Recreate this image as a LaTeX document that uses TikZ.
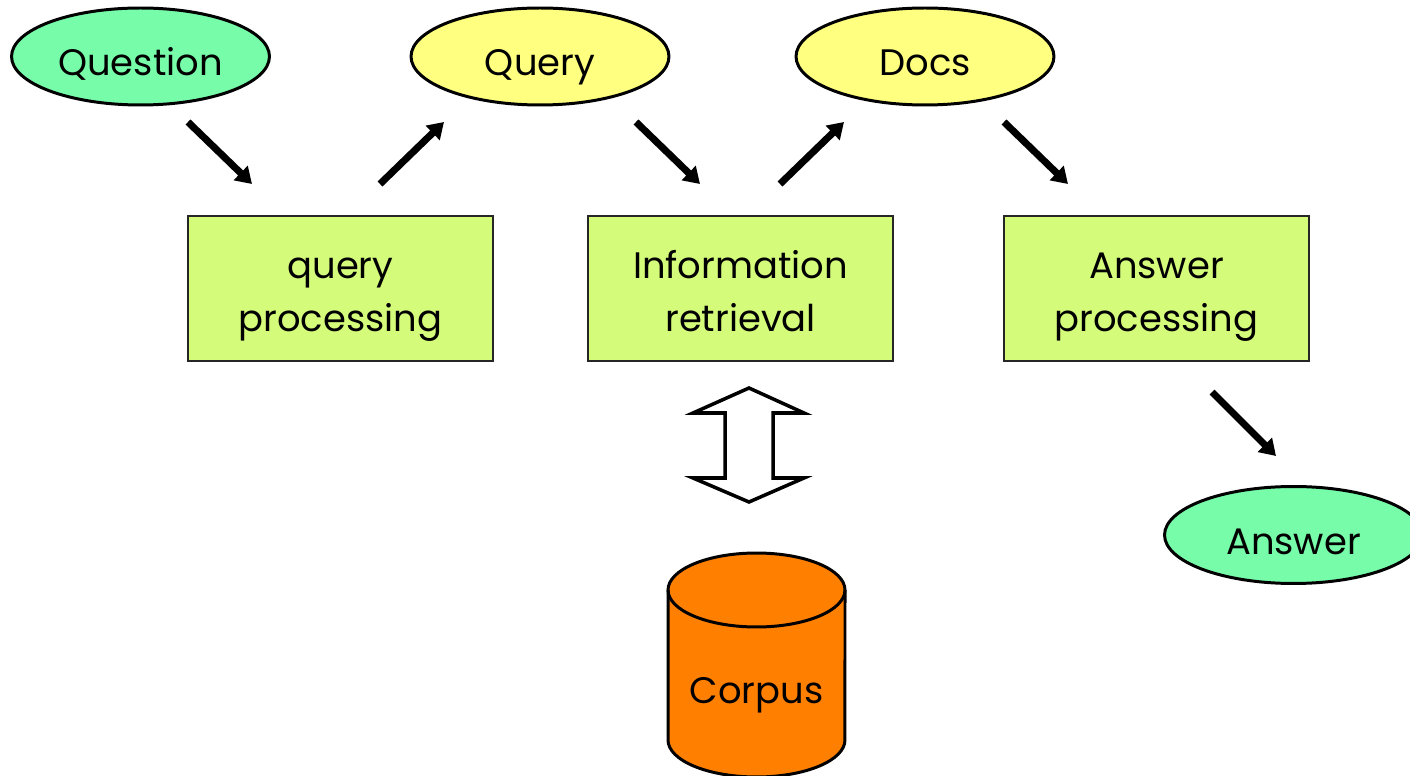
\documentclass[tikz,border=0pt]{standalone}
\usepackage{fontspec}
\setmainfont{Poppins}
\usetikzlibrary{arrows.meta,shapes.geometric}
\definecolor{qgreen}{HTML}{77FCA9}
\definecolor{qyellow}{HTML}{FFFF80}
\definecolor{boxgreen}{HTML}{D5FB7B}
\definecolor{corpusorange}{HTML}{FF7F00}
\begin{document}
\begin{tikzpicture}[x=0.02cm,y=-0.02cm,
  oval/.style={ellipse, draw=black, line width=1.7pt, minimum width=5.16cm,
    minimum height=1.94cm, inner sep=0pt, font=\fontsize{21}{25}\selectfont,
    text height=22pt, text depth=0pt},
  stagebox/.style={rectangle, draw=black!85, line width=1.1pt, fill=boxgreen,
    minimum width=6.1cm, minimum height=2.9cm, inner sep=0pt, align=center,
    font=\fontsize{21}{30.2}\selectfont, text height=49.5pt, text depth=0pt},
  flow/.style={line width=4pt, -{Triangle[length=9pt,width=11pt]}},
  hollow/.style={draw=black, line width=2pt, fill=white, line join=miter},
  labeltext/.style={font=\fontsize{21}{25}\selectfont, inner sep=0pt}]
\useasboundingbox (0,0) rectangle (1410,776);

% ovals
\node[oval, fill=qgreen]  (question) at (140.5,56.5) {Question};
\node[oval, fill=qyellow] (query)    at (540,56.5)   {Query};
\node[oval, fill=qyellow] (docs)     at (925,56.5)   {Docs};
\node[oval, fill=qgreen]  (answer)   at (1293.5,535) {Answer};

% processing boxes
\node[stagebox] (qp) at (340.5,288.5) {query\\processing};
\node[stagebox] (ir) at (740.5,288.5) {Information\\retrieval};
\node[stagebox] (ap) at (1156.5,288.5) {Answer\\processing};

% arrow end points
\coordinate (a1s) at (188,122);  \coordinate (a1e) at (252,184);
\coordinate (a2s) at (380,184);  \coordinate (a2e) at (444,122);
\coordinate (a3s) at (636,122);  \coordinate (a3e) at (700,184);
\coordinate (a4s) at (780,184);  \coordinate (a4e) at (844,122);
\coordinate (a5s) at (1004,122); \coordinate (a5e) at (1068,184);
\coordinate (a6s) at (1212,392); \coordinate (a6e) at (1276,456);
\draw[flow] (a1s) -- (a1e);
\draw[flow] (a2s) -- (a2e);
\draw[flow] (a3s) -- (a3e);
\draw[flow] (a4s) -- (a4e);
\draw[flow] (a5s) -- (a5e);
\draw[flow] (a6s) -- (a6e);

% hollow double arrow
\draw[hollow] (749,388) -- (804,413) -- (773,413) -- (773,478) -- (804,478)
  -- (749,502) -- (693,478) -- (725,478) -- (725,413) -- (693,413) -- cycle;

% corpus cylinder
\fill[corpusorange] (668,590) -- (668,740)
  arc[start angle=180, end angle=360, x radius=1.77cm, y radius=0.74cm]
  -- (845,590)
  arc[start angle=0, end angle=180, x radius=1.77cm, y radius=0.74cm] -- cycle;
\draw[line width=1.7pt] (668,590) -- (668,740)
  arc[start angle=180, end angle=360, x radius=1.77cm, y radius=0.74cm]
  -- (845,590);
\draw[line width=1.7pt] (756.5,590) ellipse[x radius=1.77cm, y radius=0.74cm];
\node[labeltext, anchor=base] (corpus) at (756.5,703) {Corpus};
\end{tikzpicture}
\end{document}
